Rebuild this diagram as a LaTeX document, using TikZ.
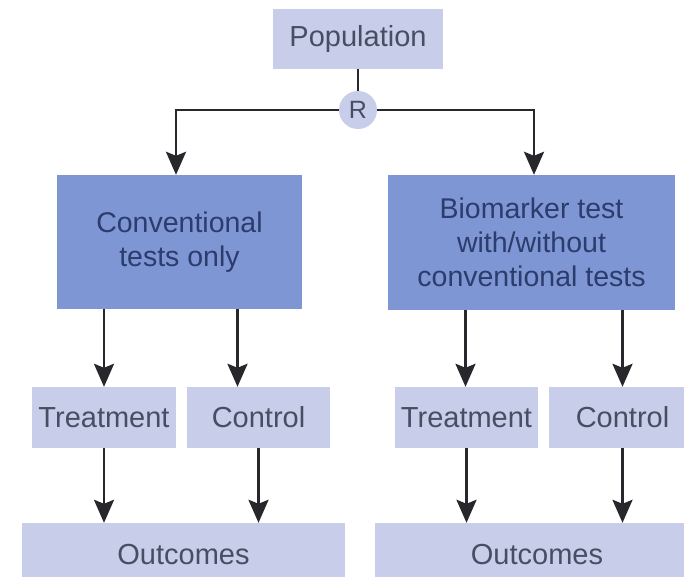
\documentclass[tikz,border=0pt]{standalone}
\usepackage{fontspec}
\setmainfont{Liberation Sans}
\usetikzlibrary{arrows.meta}
\definecolor{boxlight}{RGB}{200,206,234}
\definecolor{boxdark}{RGB}{126,150,212}
\definecolor{txtgray}{RGB}{72,78,98}
\definecolor{txtnavy}{RGB}{44,60,108}
\definecolor{linegray}{RGB}{40,40,44}
\tikzset{
  lightbox/.style={fill=boxlight, draw=none, inner sep=0pt, text=txtgray,
    font=\fontsize{29}{34}\selectfont, align=center},
  darkbox/.style={fill=boxdark, draw=none, inner sep=0pt, text=txtnavy,
    font=\fontsize{28.5}{34}\selectfont, align=center},
  rnode/.style={circle, fill=boxlight, draw=none, inner sep=0pt,
    minimum size=38pt, text=txtgray, font=\fontsize{25}{28}\selectfont},
  link/.style={draw=linegray, line width=2.8pt},
  arr/.style={link, -{Stealth[length=23pt,width=20pt,inset=4pt]}}
}
\begin{document}
\begin{tikzpicture}[x=1pt,y=-1pt]
  \useasboundingbox[fill=white] (0,0) rectangle (684,576);
  \clip (0,0) rectangle (684,576);

  % top of the tree
  \node[lightbox, minimum width=170pt, minimum height=60pt] (pop) at (358,39) {Population};
  \node[rnode] (r) at (358,110) {R};

  % the two arms
  \node[darkbox, minimum width=245pt, minimum height=134pt] (armL) at (179.5,242) {Conventional\\tests only};
  \node[darkbox, minimum width=287pt, minimum height=135pt] (armR) at (531.5,242.5) {Biomarker test\\with/without\\conventional tests};

  % treatment / control groups
  \node[lightbox, minimum width=144pt, minimum height=61pt] (tL) at (104,417.5) {Treatment};
  \node[lightbox, minimum width=143pt, minimum height=61pt] (cL) at (258.5,417.5) {Control};
  \node[lightbox, minimum width=143pt, minimum height=61pt] (tR) at (466.5,417.5) {Treatment};
  \node[lightbox, minimum width=147pt, minimum height=61pt] (cR) at (622.5,417.5) {Control};

  % outcomes
  \node[lightbox, minimum width=323pt, minimum height=64pt] (oL) at (183.5,555) {Outcomes};
  \node[lightbox, minimum width=324pt, minimum height=64pt] (oR) at (537,555) {Outcomes};

  % randomisation
  \draw[link] (pop.south) -- (r.north);
  \coordinate (jL) at (176,110);
  \coordinate (jR) at (534,110);
  \draw[arr] (r.west) -- (jL) -- (jL |- armL.north);
  \draw[arr] (r.east) -- (jR) -- (jR |- armR.north);

  % arms to groups
  \draw[arr] (tL.north |- armL.south) -- (tL.north);
  \draw[arr] ([xshift=-21pt]cL.north |- armL.south) -- ([xshift=-21pt]cL.north);
  \draw[arr] ([xshift=-1pt]tR.north |- armR.south) -- ([xshift=-1pt]tR.north);
  \draw[arr] (cR.north |- armR.south) -- (cR.north);

  % groups to outcomes
  \draw[arr] (tL.south) -- (tL.south |- oL.north);
  \draw[arr] (cL.south) -- (cL.south |- oL.north);
  \draw[arr] (tR.south) -- (tR.south |- oR.north);
  \draw[arr] (cR.south) -- (cR.south |- oR.north);
\end{tikzpicture}
\end{document}
